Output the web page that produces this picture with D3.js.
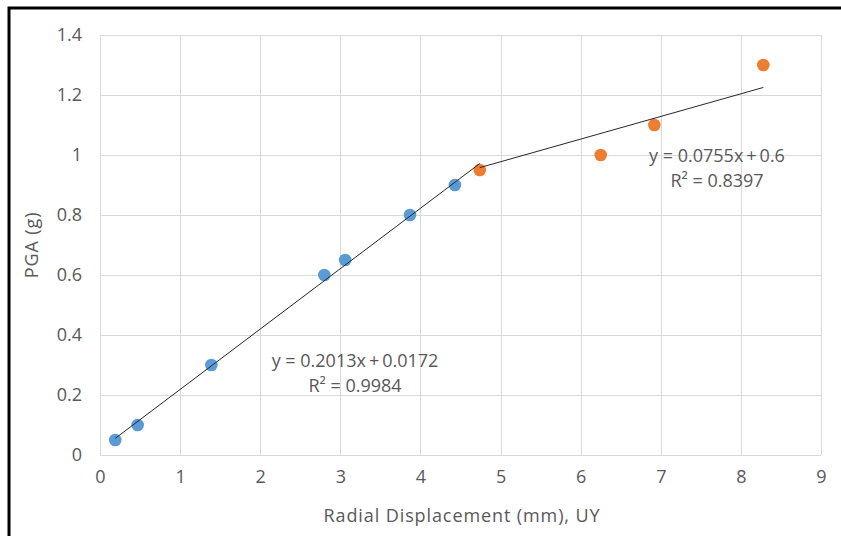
<!DOCTYPE html>
<html><head><meta charset="utf-8">
<script src="https://cdn.jsdelivr.net/npm/d3@7"></script>
<style>body{margin:0;background:#fff;}svg{display:block;font-family:"Open Sans",sans-serif;}</style>
</head><body>
<svg id="c" width="841" height="536"></svg>
<script>
const blueX = [0.19, 0.47, 1.39, 2.80, 3.06, 3.87, 4.43];
const blueY = [0.05, 0.10, 0.30, 0.60, 0.65, 0.80, 0.90];
const orangeX = [4.74, 6.25, 6.92, 8.28];
const orangeY = [0.95, 1.00, 1.10, 1.30];
const trend1 = {slope: 0.2013, intercept: 0.0172, x0: 0.19, x1: 4.74, eq: "y = 0.2013x\u2009+\u20090.0172", r2: "R² = 0.9984"};
const trend2 = {slope: 0.0755, intercept: 0.6, x0: 4.74, x1: 8.28, eq: "y = 0.0755x\u2009+\u20090.6", r2: "R² = 0.8397"};
const xTicks = [0,1,2,3,4,5,6,7,8,9];
const yTicks = [0,0.2,0.4,0.6,0.8,1,1.2,1.4];
const xTitle = "Radial Displacement (mm), UY";
const yTitle = "PGA (g)";

const svg = d3.select("#c");
const x = d3.scaleLinear().domain([0,9]).range([100,821]);
const y = d3.scaleLinear().domain([0,1.4]).range([455,35]);
const txt = "#595959";

// frame
svg.append("rect").attr("x",9).attr("y",8).attr("width",850).attr("height",560)
  .attr("fill","none").attr("stroke","#000").attr("stroke-width",3);

const grid = svg.append("g");
grid.selectAll("line.h").data(yTicks).join("line")
  .attr("x1",x(0)).attr("x2",x(9)).attr("y1",d=>Math.round(y(d))+0.5).attr("y2",d=>Math.round(y(d))+0.5)
  .attr("stroke","#d9d9d9").attr("stroke-width",1);
grid.selectAll("line.v").data(xTicks).join("line")
  .attr("y1",y(0)).attr("y2",y(1.4)).attr("x1",d=>Math.round(x(d))+0.5).attr("x2",d=>Math.round(x(d))+0.5)
  .attr("stroke","#d9d9d9").attr("stroke-width",1);

const yAxis = d3.axisLeft(y).tickValues(yTicks).tickSize(0).tickPadding(18).tickFormat(d=>String(+d.toFixed(1)));
const ya = svg.append("g").attr("transform",`translate(${x(0)},0)`).call(yAxis);
ya.select(".domain").remove();
ya.selectAll("text").attr("fill",txt).attr("font-size",18).attr("font-family","Open Sans, sans-serif");

const xAxis = d3.axisBottom(x).tickValues(xTicks).tickSize(0).tickPadding(15).tickFormat(d3.format("d"));
const xa = svg.append("g").attr("transform",`translate(0,${y(0)})`).call(xAxis);
xa.select(".domain").remove();
xa.selectAll("text").attr("fill",txt).attr("font-size",18).attr("font-family","Open Sans, sans-serif");

svg.append("text").attr("x",462).attr("y",522).attr("text-anchor","middle")
  .attr("fill",txt).attr("font-size",18).attr("letter-spacing",0.9).text(xTitle);
svg.append("text").attr("transform","translate(38,245) rotate(-90)").attr("text-anchor","middle")
  .attr("fill",txt).attr("font-size",18).attr("letter-spacing",0.9).text(yTitle);

function drawPts(xs, ys, color){
  svg.append("g").selectAll("circle").data(xs.map((v,i)=>[v,ys[i]])).join("circle")
    .attr("cx",d=>x(d[0])).attr("cy",d=>y(d[1])).attr("r",6.3).attr("fill",color);
}
drawPts(blueX, blueY, "#5b9bd5");
drawPts(orangeX, orangeY, "#ed7d31");

function drawTrend(t){
  svg.append("line").attr("x1",x(t.x0)).attr("y1",y(t.slope*t.x0+t.intercept))
    .attr("x2",x(t.x1)).attr("y2",y(t.slope*t.x1+t.intercept))
    .attr("stroke","#262626").attr("stroke-width",1);
}
drawTrend(trend1);
drawTrend(trend2);

function label(t, cx, cy){
  svg.append("text").attr("x",cx).attr("y",cy).attr("text-anchor","middle").attr("fill",txt).attr("font-size",18).text(t.eq);
  svg.append("text").attr("x",cx).attr("y",cy+25).attr("text-anchor","middle").attr("fill",txt).attr("font-size",18).text(t.r2);
}
label(trend1, 355, 367);
label(trend2, 717, 162);
</script>
</body></html>
